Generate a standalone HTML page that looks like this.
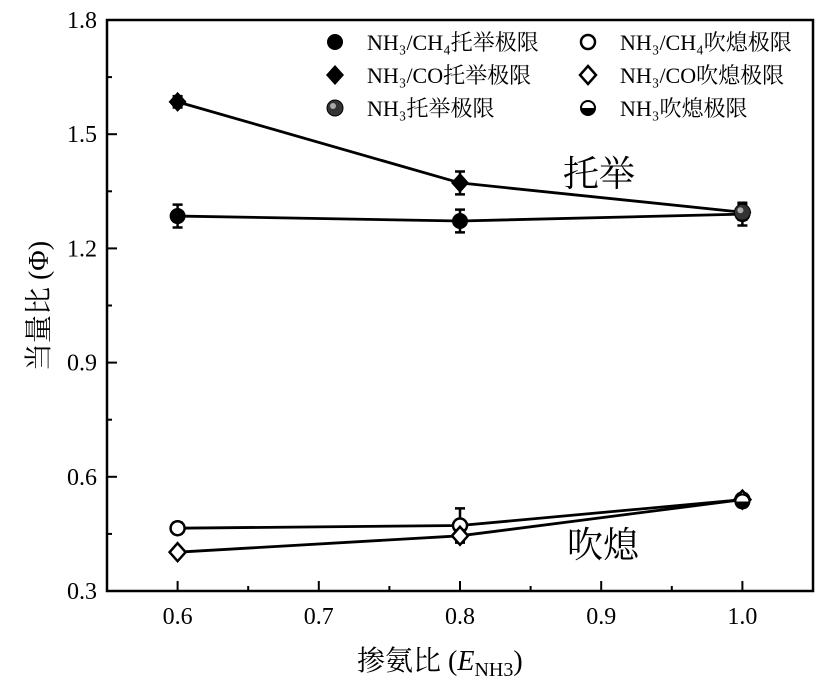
<!DOCTYPE html>
<html><head><meta charset="utf-8"><style>
body{margin:0;background:#fff}
svg text{font-family:"Liberation Serif","Noto Serif CJK SC",serif;fill:#000}
</style></head><body>
<svg id="chart" width="829" height="688" xmlns="http://www.w3.org/2000/svg">
<g id="g"></g>
</svg>
<script>
const xCats=[0.6,0.8,1.0];
const ch4Lift=[1.285,1.272,1.29];
const ch4LiftErr=[0.03,0.03,0.03];
const coLift=[1.585,1.372,1.295];
const coLiftErr=[0.015,0.03,0.02];
const nh3Lift=[null,null,1.295];
const ch4Blow=[0.465,0.472,0.54];
const ch4BlowErr=[0.015,0.045,0.015];
const coBlow=[0.402,0.445,0.54];
const coBlowErr=[0.01,0.015,0.01];
const nh3Blow=[null,null,0.535];
const xTicks=[0.6,0.7,0.8,0.9,1.0];
const yTicks=[0.3,0.6,0.9,1.2,1.5,1.8];
const L=107,R=813,T=20,B=591;
const X=v=>L+(v-0.55)/(1.05-0.55)*(R-L);
const Y=v=>B-(v-0.3)/(1.8-0.3)*(B-T);
const NS="http://www.w3.org/2000/svg";
const g=document.getElementById('g');
function mk(t,a,txt){const e=document.createElementNS(NS,t);for(const k in a)e.setAttribute(k,a[k]);if(txt!=null)e.textContent=txt;g.appendChild(e);return e;}
const frame=mk('rect',{x:L,y:T,width:R-L,height:B-T,fill:'none',stroke:'#000','stroke-width':2.5});


xTicks.forEach(v=>{const t=mk('line',{x1:X(v),x2:X(v),y1:B,y2:B-10,stroke:'#000','stroke-width':2});

if(v<1.0){const m=mk('line',{x1:X(v+0.05),x2:X(v+0.05),y1:B,y2:B-5,stroke:'#000','stroke-width':2});
}
const l=mk('text',{x:X(v),y:B+33,'text-anchor':'middle','font-size':24},v.toFixed(1));
});
yTicks.forEach(v=>{const t=mk('line',{x1:L,x2:L+10,y1:Y(v),y2:Y(v),stroke:'#000','stroke-width':2});

if(v<1.8){const m=mk('line',{x1:L,x2:L+5,y1:Y(v+0.15),y2:Y(v+0.15),stroke:'#000','stroke-width':2});
}
const l=mk('text',{x:L-10,y:Y(v)+8,'text-anchor':'end','font-size':24},v.toFixed(1));
});
function line(vals,name){const p=[];vals.forEach((v,i)=>{if(v!=null)p.push(X(xCats[i])+','+Y(v));});
const e=mk('polyline',{points:p.join(' '),fill:'none',stroke:'#000','stroke-width':2.8});
}
function err(vals,errs,name){vals.forEach((v,i)=>{const x=X(xCats[i]),e=errs[i];
const p=mk('path',{d:`M${x},${Y(v+e)}V${Y(v-e)}M${x-5},${Y(v+e)}H${x+5}M${x-5},${Y(v-e)}H${x+5}`,stroke:'#000','stroke-width':2.5,fill:'none'});
});}
function marker(x,y,type,name){let e;
if(type==='circle')e=mk('circle',{cx:x,cy:y,r:8,fill:'#000'});
else if(type==='ocircle')e=mk('circle',{cx:x,cy:y,r:7,fill:'#fff',stroke:'#000','stroke-width':2.5});
else if(type==='diamond')e=mk('path',{d:`M${x},${y-10}L${x+9},${y}L${x},${y+10}L${x-9},${y}Z`,fill:'#000'});
else if(type==='odiamond')e=mk('path',{d:`M${x},${y-9}L${x+8},${y}L${x},${y+9}L${x-8},${y}Z`,fill:'#fff',stroke:'#000','stroke-width':2.5});
else if(type==='sphere'){e=mk('circle',{cx:x,cy:y,r:8,fill:'#333',stroke:'#000','stroke-width':1});mk('circle',{cx:x-2,cy:y-2,r:3,fill:'#aaa'});}
else if(type==='half'){e=mk('circle',{cx:x,cy:y,r:7,fill:'#fff',stroke:'#000','stroke-width':2});mk('path',{d:`M${x-7},${y}A7,7 0 0 0 ${x+7},${y}Z`,fill:'#000'});}
}
function series(vals,errs,type,name){if(vals.filter(v=>v!=null).length>1)line(vals,name+'-line');if(errs)err(vals,errs,name+'-errorbar');
vals.forEach((v,i)=>{if(v!=null)marker(X(xCats[i]),Y(v),type,name+'-point');});}
series(ch4Lift,ch4LiftErr,'circle','ch4-lift');
series(coLift,coLiftErr,'diamond','co-lift');
series(nh3Lift,null,'sphere','nh3-lift');
series(ch4Blow,ch4BlowErr,'ocircle','ch4-blow');
series(coBlow,coBlowErr,'odiamond','co-blow');
series(nh3Blow,null,'half','nh3-blow');
const leg=[[335,42,'circle','NH₃/CH₄托举极限'],[588,42,'ocircle','NH₃/CH₄吹熄极限'],[335,75,'diamond','NH₃/CO托举极限'],[588,75,'odiamond','NH₃/CO吹熄极限'],[335,108,'sphere','NH₃托举极限'],[588,108,'half','NH₃吹熄极限']];
leg.forEach(l=>{marker(l[0],l[1],l[2],'legend-marker');
const t=mk('text',{x:l[0]+32,y:l[1]+8,'font-size':22},l[3]);});
let a=mk('text',{x:563,y:186,'font-size':36},'托举');
a=mk('text',{x:567,y:557,'font-size':36},'吹熄');
a=mk('text',{x:357,y:670,'font-size':28},'');
a.innerHTML='掺氨比 (<tspan font-style="italic">E</tspan><tspan font-size="20" dy="6">NH3</tspan><tspan dy="-6">)</tspan>';
a=mk('text',{x:0,y:0,'font-size':28,transform:'translate(48,306) rotate(-90)','text-anchor':'middle'},'当量比 (Φ)');
</script>
</body></html>
